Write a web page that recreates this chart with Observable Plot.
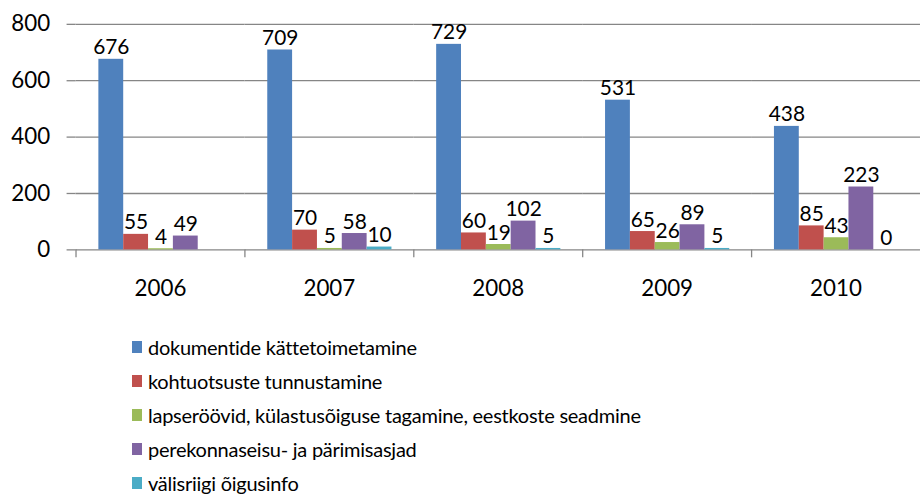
<!DOCTYPE html>
<html>
<head>
<meta charset="utf-8">
<script src="https://cdn.jsdelivr.net/npm/d3@7"></script>
<script src="https://cdn.jsdelivr.net/npm/@observablehq/plot@0.6"></script>
<style>
  html, body { margin: 0; padding: 0; background: #fff; overflow: hidden; }
  #chart { width: 920px; height: 315px; overflow: hidden; }
  .legend { padding-left: 132px; margin-top: 15px; font-family: Lato, sans-serif; font-size: 20px; color: #000; letter-spacing: -0.25px; }
  .legend .item { height: 34px; display: flex; align-items: center; }
  .legend .sw { width: 10px; height: 12px; margin-right: 6px; display: inline-block; }
</style>
</head>
<body>
<div id="chart"></div>
<div class="legend" id="legend"></div>
<script>
const years = ["2006", "2007", "2008", "2009", "2010"];
const seriesNames = [
  "dokumentide kättetoimetamine",
  "kohtuotsuste tunnustamine",
  "lapseröövid, külastusõiguse tagamine, eestkoste seadmine",
  "perekonnaseisu- ja pärimisasjad",
  "välisriigi õigusinfo"
];
const dokumentide = [676, 709, 729, 531, 438];
const kohtuotsuste = [55, 70, 60, 65, 85];
const lapseroovid = [4, 5, 19, 26, 43];
const perekonnaseisu = [49, 58, 102, 89, 223];
const valisriigi = [null, 10, 5, 5, 0];
const colors = ["#4F81BD", "#C0504D", "#9BBB59", "#8064A2", "#4BACC6"];
const yTicks = [0, 200, 400, 600, 800];

const seriesValues = [dokumentide, kohtuotsuste, lapseroovid, perekonnaseisu, valisriigi];
const data = [];
years.forEach((yr, i) => {
  seriesNames.forEach((s, j) => {
    const v = seriesValues[j][i];
    if (v !== null) data.push({year: yr, series: s, value: v});
  });
});

const width = 926, marginLeft = 76, marginRight = 0;
const halfStep = (width - marginLeft - marginRight) / years.length / 2;

const chart = Plot.plot({
  width,
  height: 315,
  marginLeft,
  marginRight,
  marginTop: 24,
  marginBottom: 64,
  style: {fontFamily: "Lato, sans-serif", fontSize: "22px", color: "#000", background: "#fff", overflow: "visible"},
  fx: {domain: years, padding: 0, label: null},
  x: {domain: seriesNames, paddingInner: 0, paddingOuter: 0.77, axis: null},
  y: {domain: [0, 800], label: null},
  color: {domain: seriesNames, range: colors},
  marks: [
    Plot.gridY(yTicks, {stroke: "#868686", strokeOpacity: 1, strokeWidth: 1.3}),
    Plot.axisY(yTicks, {tickSize: 9, tickPadding: 17, stroke: "#868686", strokeWidth: 1.3, fontSize: 22.5, label: null}),
    Plot.axisFx({anchor: "bottom", tickSize: 0, tickPadding: 30, fontSize: 22.5, label: null}),
    Plot.axisFx({anchor: "bottom", tickSize: 8, text: null, dx: -halfStep, stroke: "#868686", strokeWidth: 1.3, label: null}),
    Plot.barY(data, {fx: "year", x: "series", y: "value", fill: "series"}),
    Plot.text(data, {fx: "year", x: "series", y: "value", text: d => String(d.value), lineAnchor: "bottom", dy: -5, fontSize: 21, fill: "#000"})
  ]
});
document.getElementById("chart").appendChild(chart);

const legend = document.getElementById("legend");
seriesNames.forEach((s, j) => {
  const item = document.createElement("div");
  item.className = "item";
  const sw = document.createElement("span");
  sw.className = "sw";
  sw.style.background = colors[j];
  item.appendChild(sw);
  item.appendChild(document.createTextNode(s));
  legend.appendChild(item);
});
</script>
</body>
</html>
